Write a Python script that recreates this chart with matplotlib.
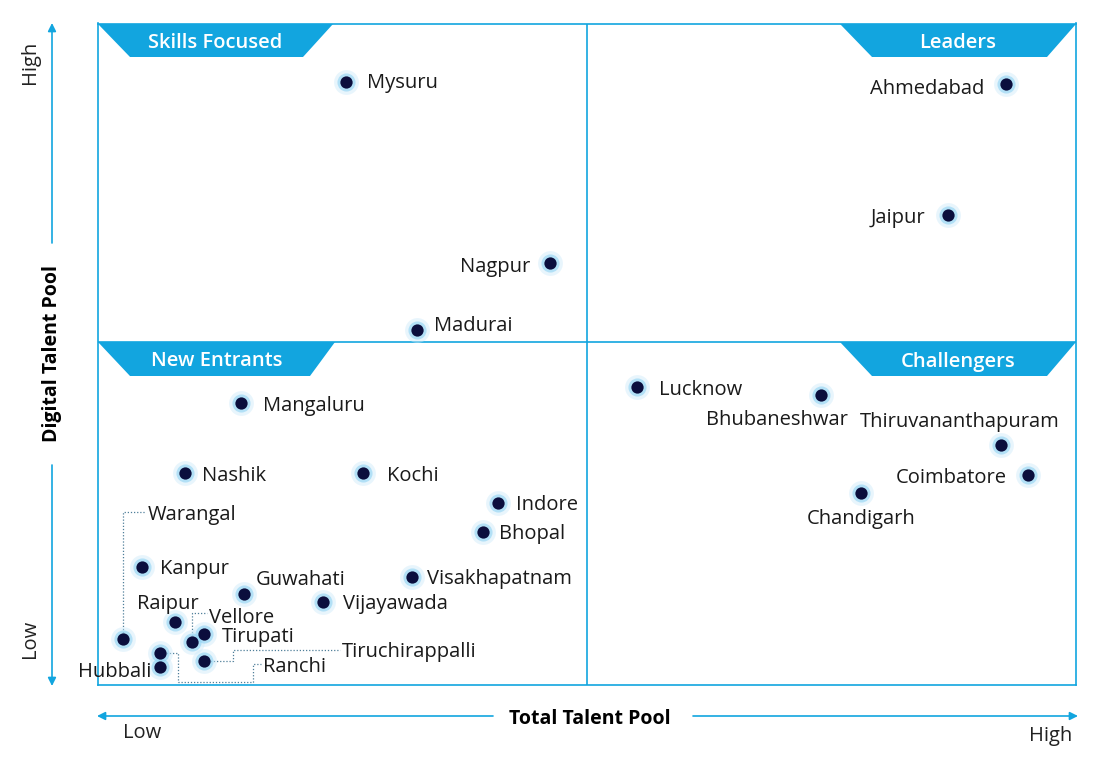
import matplotlib.pyplot as plt
import numpy as np
from matplotlib.patches import Polygon

plt.rcParams['font.family'] = ['Open Sans', 'DejaVu Sans']

# city, total talent pool (x), digital talent pool (y) on a 0-10 scale
cities = ['Mysuru', 'Ahmedabad', 'Jaipur', 'Nagpur', 'Madurai',
          'Lucknow', 'Bhubaneshwar', 'Thiruvananthapuram', 'Coimbatore', 'Chandigarh',
          'Mangaluru', 'Nashik', 'Kochi', 'Indore', 'Bhopal',
          'Kanpur', 'Visakhapatnam', 'Guwahati', 'Vijayawada', 'Raipur',
          'Tirupati', 'Vellore', 'Warangal', 'Ranchi', 'Hubbali', 'Tiruchirappalli']
total_pool = [2.54, 9.28, 8.69, 4.62, 3.26,
              5.51, 7.39, 9.23, 9.51, 7.80,
              1.46, 0.89, 2.71, 4.09, 3.94,
              0.45, 3.21, 1.49, 2.30, 0.79,
              1.08, 0.96, 0.26, 0.63, 0.63, 1.08]
digital_pool = [9.12, 9.08, 7.11, 6.37, 5.36,
                4.50, 4.38, 3.63, 3.17, 2.89,
                4.26, 3.20, 3.20, 2.75, 2.30,
                1.78, 1.62, 1.37, 1.25, 0.94,
                0.77, 0.65, 0.69, 0.48, 0.27, 0.35]
x_split = 5.0
y_split = 5.18

quadrants = ['Skills Focused', 'Leaders', 'New Entrants', 'Challengers']

# label placement: (dx, dy) in pixels from the point, horizontal alignment
label_pos = {
    'Mysuru': (21, 1, 'left'), 'Ahmedabad': (-21, -3, 'right'), 'Jaipur': (-23, -1, 'right'),
    'Nagpur': (-20, -2, 'right'), 'Madurai': (17, 6, 'left'), 'Lucknow': (22, -1, 'left'),
    'Bhubaneshwar': (-44, -23, 'center'), 'Thiruvananthapuram': (-41, 25, 'center'),
    'Coimbatore': (-21, -1, 'right'), 'Chandigarh': (0, -24, 'center'),
    'Mangaluru': (22, -1, 'left'), 'Nashik': (17, -1, 'left'), 'Kochi': (24, -1, 'left'),
    'Indore': (18, 0, 'left'), 'Bhopal': (16, 0, 'left'), 'Kanpur': (18, 0, 'left'),
    'Visakhapatnam': (15, 0, 'left'), 'Guwahati': (12, 16, 'left'), 'Vijayawada': (20, 0, 'left'),
    'Raipur': (-7, 20, 'center'), 'Tirupati': (18, -1, 'left'), 'Hubbali': (-8, -3, 'right'),
    'Warangal': (24, 126, 'left'), 'Vellore': (17, 26, 'left'),
    'Ranchi': (103, -12, 'left'), 'Tiruchirappalli': (138, 11, 'left'),
}
# dotted leader routes (pixel offsets from the point)
leaders = {
    'Warangal': [(0, 0), (0, 127), (22, 127)],
    'Vellore': [(0, 0), (0, 29), (15, 29)],
    'Ranchi': [(0, 0), (18, 0), (18, -29), (93, -29), (93, -11), (101, -11)],
    'Tiruchirappalli': [(0, 0), (29, 0), (29, 11), (136, 11)],
}

blue = '#12a5df'
W, H = 1120, 759
fig = plt.figure(figsize=(W / 100, H / 100), dpi=100)

bg = fig.add_axes([0, 0, 1, 1])
bg.set_xlim(0, W)
bg.set_ylim(H, 0)
bg.axis('off')

ax = fig.add_axes([98 / W, (H - 684.5) / H, 978 / W, 661 / H])
ax.patch.set_alpha(0)
ax.set_xlim(0, 10)
ax.set_ylim(0, 10)
ax.set_xticks([])
ax.set_yticks([])
for s in ax.spines.values():
    s.set_color(blue)
    s.set_linewidth(1.2)
ax.axvline(x_split, color=blue, lw=1.2)
ax.axhline(y_split, color=blue, lw=1.2)

# quadrant banners
banners = [
    [(98, 24), (333, 24), (303, 57), (130, 57)],
    [(840, 24), (1076, 24), (1047, 57), (872, 57)],
    [(98, 342), (335, 342), (310, 376), (130, 376)],
    [(840, 342), (1076, 342), (1047, 376), (872, 376)],
]
for name, poly in zip(quadrants, banners):
    bg.add_patch(Polygon(poly, closed=True, color=blue, lw=0))
    cx = (poly[0][0] + poly[1][0]) / 2
    cy = (poly[0][1] + poly[2][1]) / 2
    bg.text(cx, cy, name, color='white', fontsize=14.5, fontweight='semibold',
            ha='center', va='center_baseline')

# leader lines
for name, route in leaders.items():
    i = cities.index(name)
    base = ax.transData.transform((total_pool[i], digital_pool[i]))
    pts = base + np.array(route, dtype=float)
    d = ax.transData.inverted().transform(pts)
    ax.plot(d[:, 0], d[:, 1], ls=(0, (1, 1.5)), lw=0.9, color='#4f7f99', zorder=2)

# points with glow
ax.scatter(total_pool, digital_pool, s=320, color='#cdeafa', alpha=0.45, lw=0, zorder=3)
ax.scatter(total_pool, digital_pool, s=170, color='#8fd2f3', alpha=0.6, lw=0, zorder=3)
ax.scatter(total_pool, digital_pool, s=78, color='#0b0e3d', lw=0, zorder=4)

for name, x, y in zip(cities, total_pool, digital_pool):
    dx, dy, ha = label_pos[name]
    ax.annotate(name, (x, y), xytext=(dx, dy - 7), textcoords='offset pixels',
                ha=ha, va='baseline', fontsize=14.5, color='#1a1a1a', zorder=5)

# axis arrows and titles
arrow = dict(arrowstyle='-|>', color=blue, lw=1.2, mutation_scale=12, shrinkA=0, shrinkB=0)
bg.annotate('', xy=(97, 716), xytext=(493, 716), arrowprops=arrow)
bg.annotate('', xy=(1078, 716), xytext=(693, 716), arrowprops=arrow)
bg.annotate('', xy=(52, 23), xytext=(52, 243), arrowprops=arrow)
bg.annotate('', xy=(52, 686), xytext=(52, 465), arrowprops=arrow)

bg.text(590, 717, 'Total Talent Pool', fontsize=14, fontweight='bold', ha='center', va='center_baseline')
bg.text(52, 353, 'Digital Talent Pool', fontsize=14, fontweight='bold', rotation=90,
        ha='center', va='center')
bg.text(142, 730, 'Low', fontsize=14.5, ha='center', va='center_baseline', color='#222222')
bg.text(1051, 733, 'High', fontsize=14.5, ha='center', va='center_baseline', color='#222222')
bg.text(30, 62, 'High', fontsize=14.5, rotation=90, ha='center', va='center', color='#222222')
bg.text(30, 639, 'Low', fontsize=14.5, rotation=90, ha='center', va='center', color='#222222')

fig.savefig('out.png', dpi=100)
